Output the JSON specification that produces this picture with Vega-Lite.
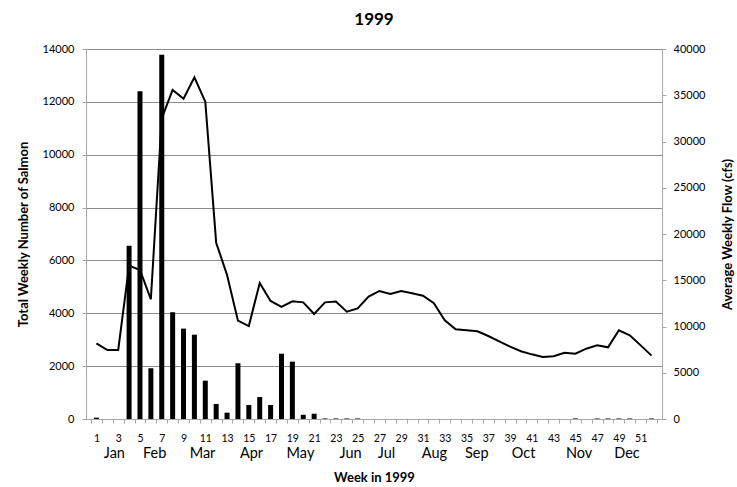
{
  "$schema": "https://vega.github.io/schema/vega-lite/v6.json",
  "autosize": {"type": "none"},
  "padding": {"left": 86, "top": 49, "right": 75, "bottom": 68},
  "width": 576,
  "height": 370,
  "background": "white",
  "config": {
    "font": "Lato",
    "view": {"stroke": null},
    "axis": {"labelFont": "Lato", "titleFont": "Lato", "labelColor": "#000000", "titleColor": "#000000"}
  },
  "title": {"text": "1999", "fontSize": 17, "fontWeight": "bold", "font": "Lato", "anchor": "middle", "offset": 14, "color": "#000000"},
  "data": {
    "values": [
      {"week": 1, "fish": 50, "flow": 8180},
      {"week": 2, "fish": 0, "flow": 7460},
      {"week": 3, "fish": 0, "flow": 7460},
      {"week": 4, "fish": 6560, "flow": 16580},
      {"week": 5, "fish": 12400, "flow": 16110},
      {"week": 6, "fish": 1920, "flow": 12940},
      {"week": 7, "fish": 13780, "flow": 32500},
      {"week": 8, "fish": 4040, "flow": 35570},
      {"week": 9, "fish": 3420, "flow": 34630},
      {"week": 10, "fish": 3190, "flow": 36940},
      {"week": 11, "fish": 1450, "flow": 34310},
      {"week": 12, "fish": 570, "flow": 19060},
      {"week": 13, "fish": 240, "flow": 15570},
      {"week": 14, "fish": 2110, "flow": 10630},
      {"week": 15, "fish": 530, "flow": 10050},
      {"week": 16, "fish": 830, "flow": 14700},
      {"week": 17, "fish": 530, "flow": 12760},
      {"week": 18, "fish": 2470, "flow": 12110},
      {"week": 19, "fish": 2170, "flow": 12720},
      {"week": 20, "fish": 160, "flow": 12610},
      {"week": 21, "fish": 200, "flow": 11350},
      {"week": 22, "fish": 20, "flow": 12610},
      {"week": 23, "fish": 20, "flow": 12690},
      {"week": 24, "fish": 20, "flow": 11600},
      {"week": 25, "fish": 20, "flow": 11960},
      {"week": 26, "fish": 0, "flow": 13230},
      {"week": 27, "fish": 0, "flow": 13840},
      {"week": 28, "fish": 0, "flow": 13510},
      {"week": 29, "fish": 0, "flow": 13840},
      {"week": 30, "fish": 0, "flow": 13590},
      {"week": 31, "fish": 0, "flow": 13330},
      {"week": 32, "fish": 0, "flow": 12510},
      {"week": 33, "fish": 0, "flow": 10670},
      {"week": 34, "fish": 0, "flow": 9690},
      {"week": 35, "fish": 0, "flow": 9590},
      {"week": 36, "fish": 0, "flow": 9480},
      {"week": 37, "fish": 0, "flow": 8970},
      {"week": 38, "fish": 0, "flow": 8400},
      {"week": 39, "fish": 0, "flow": 7820},
      {"week": 40, "fish": 0, "flow": 7320},
      {"week": 41, "fish": 0, "flow": 6990},
      {"week": 42, "fish": 0, "flow": 6700},
      {"week": 43, "fish": 0, "flow": 6780},
      {"week": 44, "fish": 0, "flow": 7170},
      {"week": 45, "fish": 20, "flow": 7060},
      {"week": 46, "fish": 0, "flow": 7600},
      {"week": 47, "fish": 20, "flow": 7960},
      {"week": 48, "fish": 20, "flow": 7750},
      {"week": 49, "fish": 20, "flow": 9590},
      {"week": 50, "fish": 20, "flow": 9050},
      {"week": 51, "fish": 0, "flow": 7960},
      {"week": 52, "fish": 20, "flow": 6850}
    ]
  },
  "layer": [
    {
      "mark": {"type": "bar", "color": "#000000", "size": 5},
      "encoding": {
        "x": {
          "field": "week",
          "type": "quantitative",
          "scale": {"domain": [0.5, 52.5], "nice": false, "zero": false},
          "axis": {
            "orient": "bottom",
            "title": null,
            "grid": false,
            "values": [0.5, 1, 1.5, 2.5, 3, 3.5, 4.5, 5, 5.5, 6.5, 7, 7.5, 8.5, 9, 9.5, 10.5, 11, 11.5, 12.5, 13, 13.5, 14.5, 15, 15.5, 16.5, 17, 17.5, 18.5, 19, 19.5, 20.5, 21, 21.5, 22.5, 23, 23.5, 24.5, 25, 25.5, 26.5, 27, 27.5, 28.5, 29, 29.5, 30.5, 31, 31.5, 32.5, 33, 33.5, 34.5, 35, 35.5, 36.5, 37, 37.5, 38.5, 39, 39.5, 40.5, 41, 41.5, 42.5, 43, 43.5, 44.5, 45, 45.5, 46.5, 47, 47.5, 48.5, 49, 49.5, 50.5, 51, 51.5, 52.5],
            "labelExpr": "datum.value % 2 == 1 ? '' + datum.value : ''",
            "labelFontSize": 10.5,
            "labelPadding": 10.5,
            "labelOverlap": false,
            "labelFlush": false,
            "labelBaseline": "top",
            "tickSize": 4,
            "tickColor": {"condition": {"test": "datum.value % 1 == 0", "value": "transparent"}, "value": "#a6a6a6"},
            "domainColor": "#a6a6a6",
            "domainWidth": 1
          }
        },
        "y": {
          "field": "fish",
          "type": "quantitative",
          "scale": {"domain": [0, 14000], "nice": false},
          "axis": {
            "orient": "left",
            "title": "Total Weekly Number of Salmon",
            "titleFontSize": 13,
            "titleFontWeight": "bold",
            "titlePadding": 12,
            "values": [0, 2000, 4000, 6000, 8000, 10000, 12000, 14000],
            "format": "d",
            "labelFontSize": 11,
            "labelPadding": 8,
            "tickSize": 4,
            "tickColor": "#a6a6a6",
            "domainColor": "#a6a6a6",
            "grid": true,
            "gridColor": "#8c8c8c",
            "gridWidth": 1
          }
        }
      }
    },
    {
      "mark": {"type": "line", "color": "#000000", "strokeWidth": 2},
      "encoding": {
        "x": {
          "field": "week",
          "type": "quantitative",
          "scale": {"domain": [0.5, 52.5], "nice": false, "zero": false},
          "axis": {
            "orient": "bottom",
            "title": "Week in 1999",
            "titleFontSize": 13,
            "titleFontWeight": "bold",
            "titlePadding": 12,
            "grid": false,
            "domain": false,
            "ticks": false,
            "values": [2.6, 6.3, 10.7, 15.2, 19.7, 24.3, 27.6, 32, 35.9, 40.2, 45.3, 49.7],
            "labelExpr": "datum.value < 4 ? 'Jan' : datum.value < 8 ? 'Feb' : datum.value < 12 ? 'Mar' : datum.value < 17 ? 'Apr' : datum.value < 22 ? 'May' : datum.value < 26 ? 'Jun' : datum.value < 30 ? 'Jul' : datum.value < 34 ? 'Aug' : datum.value < 38 ? 'Sep' : datum.value < 43 ? 'Oct' : datum.value < 48 ? 'Nov' : 'Dec'",
            "labelFontSize": 14.5,
            "labelPadding": 27,
            "labelOverlap": false,
            "labelFlush": false,
            "labelBaseline": "top"
          }
        },
        "y": {
          "field": "flow",
          "type": "quantitative",
          "scale": {"domain": [0, 40000], "nice": false},
          "axis": {
            "orient": "right",
            "title": "Average Weekly Flow (cfs)",
            "titleFontSize": 13,
            "titleFontWeight": "bold",
            "titleAngle": 270,
            "titlePadding": 30,
            "values": [0, 5000, 10000, 15000, 20000, 25000, 30000, 35000, 40000],
            "format": "d",
            "labelFontSize": 11,
            "labelPadding": 7,
            "tickSize": 4,
            "tickColor": "#a6a6a6",
            "domainColor": "#a6a6a6",
            "grid": false
          }
        }
      }
    }
  ],
  "resolve": {"scale": {"y": "independent"}, "axis": {"x": "independent", "y": "independent"}}
}
